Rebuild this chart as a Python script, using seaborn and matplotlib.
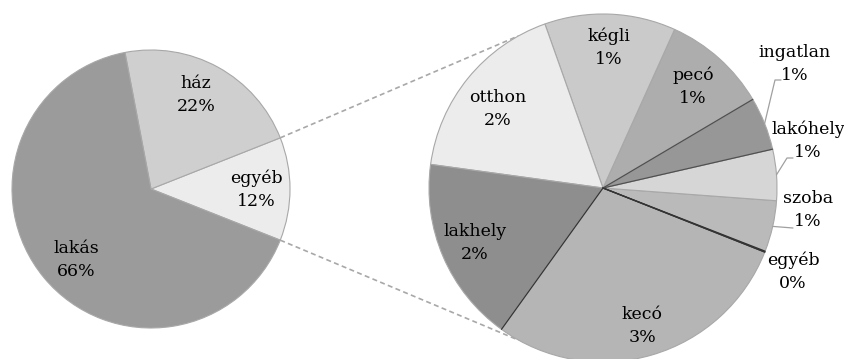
import numpy as np
import matplotlib
matplotlib.use("Agg")
import matplotlib.pyplot as plt
import seaborn as sns

# adatok
fo_kategoriak = ["egyéb", "ház", "lakás"]
fo_ertekek = [12, 22, 66]
fo_szinek = ["#ececec", "#cfcfcf", "#9b9b9b"]

egyeb_kategoriak = ["egyéb", "szoba", "lakóhely", "ingatlan", "pecó",
                    "kégli", "otthon", "lakhely", "kecó"]
egyeb_ertekek = [0.01, 0.57, 0.57, 0.59, 1.17, 1.46, 2.09, 2.07, 3.47]
egyeb_szinek = ["#d0d0d0", "#bababa", "#d6d6d6", "#979797", "#adadad",
                "#cacaca", "#ececec", "#8e8e8e", "#b5b5b5"]
# sötét sugárirányú élek
sotet_elek = {"egyéb": "#303030", "ingatlan": "#505050", "kecó": "#353535"}

# elrendezés (pixel, y lefelé)
W, H = 844, 359
bal_kozep = (151, H - 189)
bal_sugar = 139
jobb_kozep = (603, H - 188)
jobb_sugar = 174

fo_cimke_pos = [(256, 190), (196, 95), (76, 260)]
egyeb_cimke_pos = [(793, 272), (808, 210), (808, 141), (795, 64),
                   (693, 87), (609, 48), (498, 109), (475, 243), (642, 326)]
# vezetővonalak: kategória -> könyökpont
vezetok = {"ingatlan": [(775, 80), (781, 80)],
           "lakóhely": [(787, 158), (793, 158)],
           "szoba": [(793, 228)]}

sns.set_style("white")
plt.rcParams["font.family"] = ["DejaVu Serif"]

fig = plt.figure(figsize=(W / 100, H / 100), dpi=100)
ax = fig.add_axes([0, 0, 1, 1])

fo_kezdo = -fo_ertekek[0] / sum(fo_ertekek) * 360 / 2
ax.pie(fo_ertekek, colors=fo_szinek, startangle=fo_kezdo, counterclock=True,
       center=bal_kozep, radius=bal_sugar,
       wedgeprops=dict(edgecolor="#a8a8a8", linewidth=0.8))

wedges, _ = ax.pie(egyeb_ertekek, colors=egyeb_szinek, startangle=fo_kezdo,
                   counterclock=True, center=jobb_kozep, radius=jobb_sugar,
                   wedgeprops=dict(edgecolor="#a8a8a8", linewidth=0.8))

# sötét élek a megfelelő szeleteken
for w, nev in zip(wedges, egyeb_kategoriak):
    if nev in sotet_elek:
        for th in (w.theta1, w.theta2):
            t = np.deg2rad(th)
            ax.plot([jobb_kozep[0], jobb_kozep[0] + jobb_sugar * np.cos(t)],
                    [jobb_kozep[1], jobb_kozep[1] + jobb_sugar * np.sin(t)],
                    color=sotet_elek[nev], linewidth=0.9, zorder=3)

ax.set_xlim(0, W)
ax.set_ylim(0, H)
ax.set_aspect("equal")
ax.axis("off")

# címkék
for nev, ert, (x, y) in zip(fo_kategoriak, fo_ertekek, fo_cimke_pos):
    ax.text(x, H - y, f"{nev}\n{round(ert)}%", ha="center", va="center",
            fontsize=12.5, linespacing=1.45, color="black")
for nev, ert, (x, y) in zip(egyeb_kategoriak, egyeb_ertekek, egyeb_cimke_pos):
    ax.text(x, H - y, f"{nev}\n{round(ert)}%", ha="center", va="center",
            fontsize=12.5, linespacing=1.45, color="black")

# vezetővonalak
for w, nev in zip(wedges, egyeb_kategoriak):
    if nev in vezetok:
        szog = np.deg2rad((w.theta1 + w.theta2) / 2)
        pontok = [(jobb_kozep[0] + jobb_sugar * np.cos(szog),
                   jobb_kozep[1] + jobb_sugar * np.sin(szog))]
        pontok += [(x, H - y) for x, y in vezetok[nev]]
        xs, ys = zip(*pontok)
        ax.plot(xs, ys, color="#a0a0a0", linewidth=0.9)

# összekötő szaggatott vonalak
fel = np.deg2rad(-fo_kezdo)
for bal_szog, jobb_szog in [(fel, np.deg2rad(119)), (-fel, np.deg2rad(241))]:
    x0 = bal_kozep[0] + bal_sugar * np.cos(bal_szog)
    y0 = bal_kozep[1] + bal_sugar * np.sin(bal_szog)
    x1 = jobb_kozep[0] + jobb_sugar * np.cos(jobb_szog)
    y1 = jobb_kozep[1] + jobb_sugar * np.sin(jobb_szog)
    ax.plot([x0, x1], [y0, y1], color="#a8a8a8", linewidth=1.2,
            linestyle=(0, (3, 2)), zorder=0)

fig.savefig("out.png", dpi=100)
